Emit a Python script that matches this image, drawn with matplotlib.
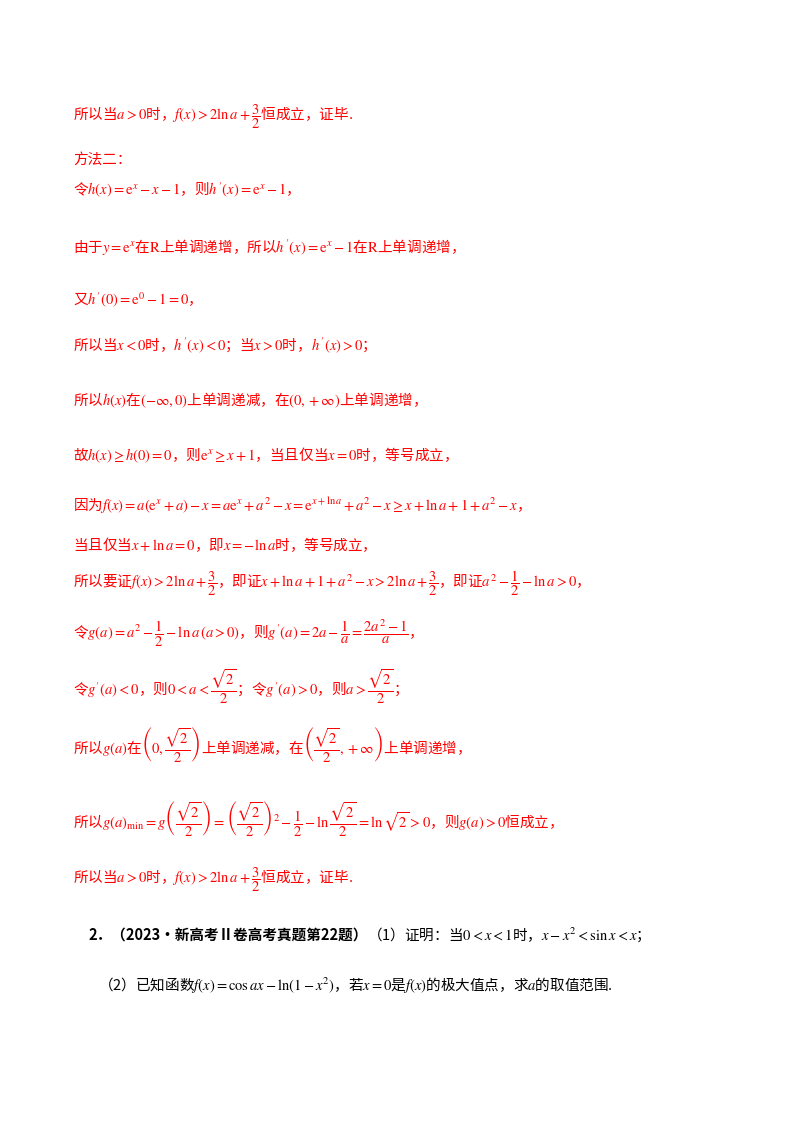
import matplotlib
matplotlib.use("Agg")
import matplotlib.pyplot as plt

plt.rcParams['font.family'] = ['Noto Sans CJK SC', 'DejaVu Sans']
plt.rcParams['mathtext.fontset'] = 'stix'

RED = "#ff0000"
BLACK = "#000000"

# (y pixel from top, x pixel, text, colour)
line_y = [117, 160, 190, 247, 300, 345, 400, 455, 506, 545, 583, 633, 687, 745, 818, 880, 935, 985]
line_x = [73] * 16 + [88, 98]
line_text = [
    r"所以当$a>0$时，$f(x)>2\ln a+\dfrac{3}{2}$恒成立，证毕.",
    r"方法二：",
    r"令$h(x)=\mathrm{e}^x-x-1$，则$h'(x)=\mathrm{e}^x-1$，",
    r"由于$y=\mathrm{e}^x$在$\mathrm{R}$上单调递增，所以$h'(x)=\mathrm{e}^x-1$在$\mathrm{R}$上单调递增，",
    r"又$h'(0)=\mathrm{e}^0-1=0$，",
    r"所以当$x<0$时，$h'(x)<0$；当$x>0$时，$h'(x)>0$；",
    r"所以$h(x)$在$(-\infty,0)$上单调递减，在$(0,+\infty)$上单调递增，",
    r"故$h(x)\geq h(0)=0$，则$\mathrm{e}^x\geq x+1$，当且仅当$x=0$时，等号成立，",
    r"因为$f(x)=a(\mathrm{e}^x+a)-x=a\mathrm{e}^x+a^2-x=\mathrm{e}^{x+\ln a}+a^2-x\geq x+\ln a+1+a^2-x$，",
    r"当且仅当$x+\ln a=0$，即$x=-\ln a$时，等号成立，",
    r"所以要证$f(x)>2\ln a+\dfrac{3}{2}$，即证$x+\ln a+1+a^2-x>2\ln a+\dfrac{3}{2}$，即证$a^2-\dfrac{1}{2}-\ln a>0$，",
    r"令$g(a)=a^2-\dfrac{1}{2}-\ln a\,(a>0)$，则$g'(a)=2a-\dfrac{1}{a}=\dfrac{2a^2-1}{a}$，",
    r"令$g'(a)<0$，则$0<a<\dfrac{\sqrt{2}}{2}$；令$g'(a)>0$，则$a>\dfrac{\sqrt{2}}{2}$；",
    r"所以$g(a)$在$\left(0,\dfrac{\sqrt{2}}{2}\right)$上单调递减，在$\left(\dfrac{\sqrt{2}}{2},+\infty\right)$上单调递增，",
    r"所以$g(a)_{\min}=g\left(\dfrac{\sqrt{2}}{2}\right)=\left(\dfrac{\sqrt{2}}{2}\right)^2-\dfrac{1}{2}-\ln\dfrac{\sqrt{2}}{2}=\ln\sqrt{2}>0$，则$g(a)>0$恒成立，",
    r"所以当$a>0$时，$f(x)>2\ln a+\dfrac{3}{2}$恒成立，证毕.",
    r"（1）证明：当$0<x<1$时，$x-x^2<\sin x<x$；",
    r"（2）已知函数$f(x)=\cos ax-\ln(1-x^2)$，若$x=0$是$f(x)$的极大值点，求$a$的取值范围.",
]
line_color = [RED] * 16 + [BLACK, BLACK]
question_head = "2．（2023·新高考Ⅱ卷高考真题第22题）"

W, H = 800, 1132
fig = plt.figure(figsize=(W / 100, H / 100), dpi=100)
fig.patch.set_facecolor("white")
renderer = fig.canvas.get_renderer()
for i, (y, x, t, c) in enumerate(zip(line_y, line_x, line_text, line_color)):
    if i == 16:
        head = fig.text(x / W, 1 - y / H, question_head, color=c, fontsize=10.5,
                        va="center", ha="left", fontweight="bold")
        x = head.get_window_extent(renderer).x1
    fig.text(x / W, 1 - y / H, t, color=c, fontsize=10.5, va="center", ha="left")
fig.savefig("out.png", dpi=100)
